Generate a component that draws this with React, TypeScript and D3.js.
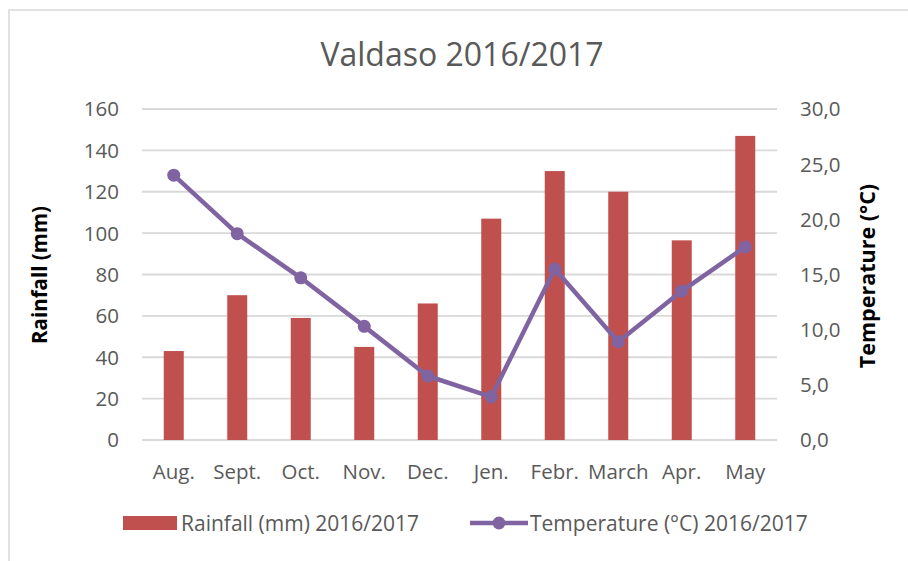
import React from "react";
import * as d3 from "d3";

const months = ["Aug.", "Sept.", "Oct.", "Nov.", "Dec.", "Jen.", "Febr.", "March", "Apr.", "May"];
const rainfall = [43, 70, 59, 45, 66, 107, 130, 120, 96.5, 147];
const temperature = [24.0, 18.7, 14.7, 10.3, 5.8, 3.9, 15.5, 8.9, 13.5, 17.5];
const rainTicks = [0, 20, 40, 60, 80, 100, 120, 140, 160];
const tempTicks = [0, 5, 10, 15, 20, 25, 30];

const W = 908;
const H = 561;
const left = 142;
const right = 777;
const top = 109;
const bottom = 440;
const FONT = "'Open Sans', 'Liberation Sans', sans-serif";
const TXT = "#595959";

export default function App() {
  const x = d3.scaleBand<string>().domain(months).range([left, right]).paddingInner(0).paddingOuter(0);
  const yL = d3.scaleLinear().domain([0, 160]).range([bottom, top]);
  const yR = d3.scaleLinear().domain([0, 30]).range([bottom, top]);
  const barW = 20;
  const cx = (m: string) => (x(m) as number) + x.bandwidth() / 2;
  const line = d3
    .line<number>()
    .x((_, i) => cx(months[i]))
    .y((d) => yR(d));

  return (
    <svg
      width={W}
      height={H}
      style={{ position: "absolute", left: 0, top: 0, display: "block", background: "#fff" }}
    >
      <rect x={9} y={10} width={W + 10} height={H + 10} fill="#fff" stroke="#d9d9d9" strokeWidth={1.5} />
      <text x={462} y={66} textAnchor="middle" fontFamily={FONT} fontSize={32} fill={TXT}>
        Valdaso 2016/2017
      </text>
      {rainTicks.map((t) => (
        <g key={"g" + t}>
          <line x1={left} x2={right} y1={yL(t)} y2={yL(t)} stroke="#d9d9d9" strokeWidth={1.8} />
          <text x={119} y={yL(t)} dy="0.36em" textAnchor="end" fontFamily={FONT} fontSize={20.5} fill={TXT}>
            {t}
          </text>
        </g>
      ))}
      {tempTicks.map((t) => (
        <text key={"r" + t} x={800} y={yR(t)} dy="0.36em" textAnchor="start" fontFamily={FONT} fontSize={20.5} fill={TXT}>
          {t.toFixed(1).replace(".", ",")}
        </text>
      ))}
      {months.map((m, i) => (
        <rect key={"b" + m} x={cx(m) - barW / 2} y={yL(rainfall[i])} width={barW} height={bottom - yL(rainfall[i])} fill="#c0504d" />
      ))}
      {months.map((m) => (
        <text key={"c" + m} x={cx(m)} y={472} dy="0.36em" textAnchor="middle" fontFamily={FONT} fontSize={20.5} fill={TXT}>
          {m}
        </text>
      ))}
      <path d={line(temperature) || ""} fill="none" stroke="#8064a2" strokeWidth={4.5} strokeLinejoin="round" />
      {temperature.map((t, i) => (
        <circle key={"p" + i} cx={cx(months[i])} cy={yR(t)} r={6.5} fill="#8064a2" />
      ))}
      <text
        transform={`translate(40,275) rotate(-90)`}
        textAnchor="middle"
        dy="0.36em"
        fontFamily={FONT}
        fontWeight="bold"
        fontSize={20.5}
        fill="#000"
      >
        Rainfall (mm)
      </text>
      <text
        transform={`translate(867,276) rotate(-90)`}
        textAnchor="middle"
        dy="0.36em"
        fontFamily={FONT}
        fontWeight="bold"
        fontSize={21.5}
        fill="#000"
      >
        Temperature (°C)
      </text>
      {/* legend */}
      <rect x={123} y={516} width={54} height={14} fill="#c0504d" />
      <text x={181} y={523} dy="0.36em" fontFamily={FONT} fontSize={21} fill={TXT}>
        Rainfall (mm) 2016/2017
      </text>
      <line x1={470} x2={528} y1={523} y2={523} stroke="#8064a2" strokeWidth={4.5} />
      <circle cx={499} cy={523} r={6.5} fill="#8064a2" />
      <text x={530} y={523} dy="0.36em" fontFamily={FONT} fontSize={21} fill={TXT}>
        Temperature (°C) 2016/2017
      </text>
    </svg>
  );
}
